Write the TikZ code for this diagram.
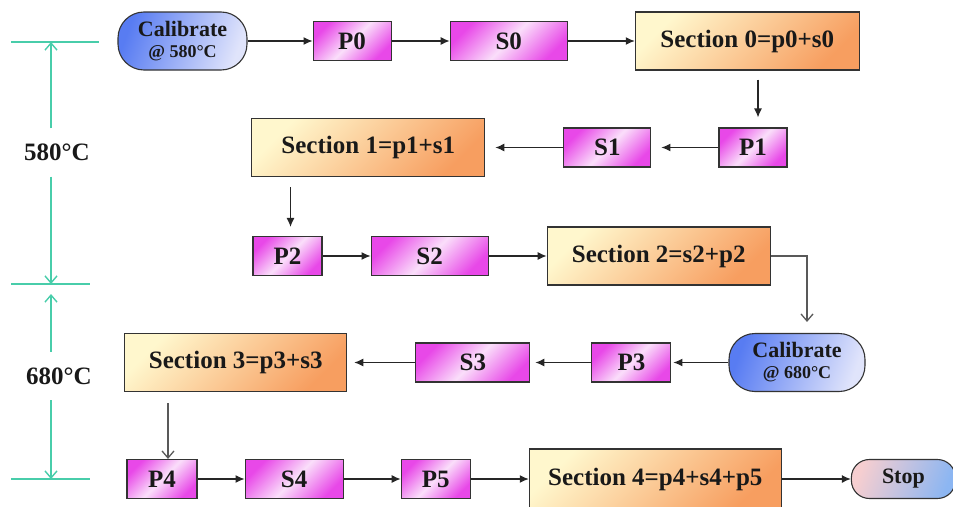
\documentclass[tikz,border=0pt]{standalone}
\usepackage{fontspec}
\setmainfont{Liberation Serif}
\usetikzlibrary{arrows.meta,positioning}
\definecolor{pinkDeep}{RGB}{232,72,232}
\definecolor{pinkPale}{RGB}{250,222,250}
\definecolor{secPale}{RGB}{255,247,205}
\definecolor{secDeep}{RGB}{247,158,96}
\definecolor{calDeep}{RGB}{88,124,242}
\definecolor{calPale}{RGB}{224,228,251}
\definecolor{stopPink}{RGB}{246,206,208}
\definecolor{stopBlue}{RGB}{140,182,242}
\definecolor{dimTeal}{RGB}{72,205,170}
\tikzset{
  flow/.style={-{Latex[length=9pt,width=8pt]}, line width=1.2pt, draw=black!85},
  drop/.style={-{Straight Barb[length=7pt,width=12pt]}, line width=1.3pt, draw=black!65},
  dim/.style={line width=1.4pt, draw=dimTeal},
  dimtip/.style={dim, -{Straight Barb[length=7pt,width=12pt]}},
  pbox/.style={draw=black!80, line width=1.1pt, top color=pinkDeep, bottom color=pinkDeep,
               middle color=pinkPale, shading angle=45, minimum height=39pt, inner sep=0pt,
               text=black!90, font=\fontsize{25}{27}\selectfont\bfseries},
  secbox/.style={draw=black!80, line width=1.1pt, top color=secPale, bottom color=secDeep,
                 shading angle=45, minimum height=58pt, inner sep=0pt,
                 text=black!90, font=\fontsize{25}{27}\selectfont\bfseries},
  calbox/.style={draw=black!80, line width=1.1pt, left color=calDeep, right color=calPale,
                 shading angle=70, rounded corners=26pt, minimum height=58pt, inner sep=0pt,
                 align=center, text=black!90, font=\fontsize{22}{24}\selectfont\bfseries},
  stopbox/.style={draw=black!80, line width=1.1pt, left color=stopPink, right color=stopBlue,
                  shading angle=70, rounded corners=18pt, minimum height=39pt, inner sep=0pt,
                  text=black!90, font=\fontsize{22}{24}\selectfont\bfseries},
  templabel/.style={minimum height=48pt, inner sep=0pt, text=black!90,
                    font=\fontsize{25}{27}\selectfont\bfseries}
}
\begin{document}
\begin{tikzpicture}[x=1pt, y=-1pt]
  \useasboundingbox (0,0) rectangle (953,506);
  \node[calbox, minimum width=129pt] (cal1) at (182.5,41) {Calibrate\\[-3pt]{\fontsize{18}{20}\selectfont @ 580°C}};
  \node[pbox, minimum width=78pt, right=65pt of cal1] (p0) {P0};
  \node[pbox, minimum width=117pt, right=58pt of p0] (s0) {S0};
  \node[secbox, minimum width=224pt, right=67pt of s0] (sec0) {Section 0=p0+s0};
  \node[pbox, minimum width=68pt] (p1) at (753,147.5) {P1};
  \node[pbox, minimum width=87pt, left=67pt of p1] (s1) {S1};
  \node[secbox, minimum width=233pt, left=78pt of s1] (sec1) {Section 1=p1+s1};
  \node[pbox, minimum width=69pt] (p2) at (287.5,256) {P2};
  \node[pbox, minimum width=117pt, right=48pt of p2] (s2) {S2};
  \node[secbox, minimum width=223pt, right=58pt of s2] (sec2) {Section 2=s2+p2};
  \node[calbox, minimum width=136pt] (cal2) at (797,362.5) {Calibrate\\[-3pt]{\fontsize{18}{20}\selectfont @ 680°C}};
  \node[pbox, minimum width=79pt, left=57pt of cal2] (p3) {P3};
  \node[pbox, minimum width=114pt, left=61pt of p3] (s3) {S3};
  \node[secbox, minimum width=222pt, left=68pt of s3] (sec3) {Section 3=p3+s3};
  \node[pbox, minimum width=70pt] (p4) at (162,479) {P4};
  \node[pbox, minimum width=98pt, right=47pt of p4] (s4) {S4};
  \node[pbox, minimum width=69pt, right=57pt of s4] (p5) {P5};
  \node[secbox, minimum width=252pt, minimum height=60pt, right=58pt of p5] (sec4) {Section 4=p4+s4+p5};
  \node[stopbox, minimum width=104pt, right=69pt of sec4] (stop) {Stop};
  \node[templabel] (t580) at (57,152.5) {580°C};
  \node[templabel] (t680) at (59,376) {680°C};
  \coordinate (d0) at (51,42);
  \coordinate (d1) at (51,284);
  \coordinate (d1b) at (51,294);
  \coordinate (d2) at (51,479);
  \draw[dim] (11,42) -- (99,42);
  \draw[dim] (11,284) -- (90,284);
  \draw[dim] (11,479) -- (90,479);
  \draw[dimtip] (t580.north -| d0) -- (d0);
  \draw[dimtip] (t580.south -| d0) -- (d1);
  \draw[dimtip] (t680.north -| d0) -- (d1b);
  \draw[dimtip] (t680.south -| d0) -- (d2);
  \draw[flow] (cal1) -- (p0);
  \draw[flow] (p0) -- (s0);
  \draw[flow] (s0) -- (sec0);
  \draw[flow, shorten <=9pt, shorten >=10pt] ([xshift=5pt]p1.north |- sec0.south) -- ([xshift=5pt]p1.north);
  \draw[flow, shorten >=10pt] (p1) -- (s1);
  \draw[flow, shorten >=10pt] (s1) -- (sec1);
  \draw[flow, shorten <=10pt, shorten >=9pt] ([xshift=3pt]p2.north |- sec1.south) -- ([xshift=3pt]p2.north);
  \draw[flow] (p2) -- (s2);
  \draw[flow] (s2) -- (sec2);
  \draw[drop, shorten >=11pt] (sec2.east) -| ([xshift=10pt]cal2.north);
  \draw[flow, shorten >=2pt] (cal2) -- (p3);
  \draw[flow, shorten >=5pt] (p3) -- (s3);
  \draw[flow, shorten >=7pt] (s3) -- (sec3);
  \draw[drop, shorten <=11pt] ([xshift=6pt]p4.north |- sec3.south) -- ([xshift=6pt]p4.north);
  \draw[flow] (p4) -- (s4);
  \draw[flow] (s4) -- (p5);
  \draw[flow] (p5) -- (sec4);
  \draw[flow] (sec4) -- (stop);
\end{tikzpicture}
\end{document}
